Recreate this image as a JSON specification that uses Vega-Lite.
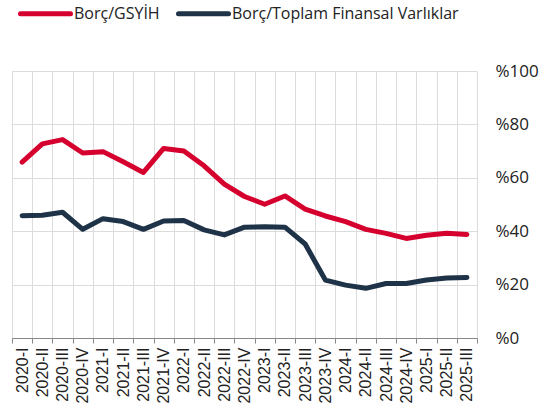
{
  "$schema": "https://vega.github.io/schema/vega-lite/v6.json",
  "width": 465,
  "height": 267,
  "autosize": {"type": "none"},
  "padding": {"left": 12, "top": 71, "right": 76, "bottom": 80},
  "config": {
    "view": {"stroke": null},
    "font": "Open Sans"
  },
  "data": {
    "values": [
      {"q": "2020-I", "s": "Borç/GSYİH", "v": 65.9},
      {"q": "2020-II", "s": "Borç/GSYİH", "v": 72.7},
      {"q": "2020-III", "s": "Borç/GSYİH", "v": 74.3},
      {"q": "2020-IV", "s": "Borç/GSYİH", "v": 69.3},
      {"q": "2021-I", "s": "Borç/GSYİH", "v": 69.8},
      {"q": "2021-II", "s": "Borç/GSYİH", "v": 66.0},
      {"q": "2021-III", "s": "Borç/GSYİH", "v": 62.0},
      {"q": "2021-IV", "s": "Borç/GSYİH", "v": 71.0},
      {"q": "2022-I", "s": "Borç/GSYİH", "v": 70.0},
      {"q": "2022-II", "s": "Borç/GSYİH", "v": 64.5},
      {"q": "2022-III", "s": "Borç/GSYİH", "v": 57.6},
      {"q": "2022-IV", "s": "Borç/GSYİH", "v": 53.0},
      {"q": "2023-I", "s": "Borç/GSYİH", "v": 50.1},
      {"q": "2023-II", "s": "Borç/GSYİH", "v": 53.2},
      {"q": "2023-III", "s": "Borç/GSYİH", "v": 48.3},
      {"q": "2023-IV", "s": "Borç/GSYİH", "v": 45.7},
      {"q": "2024-I", "s": "Borç/GSYİH", "v": 43.6},
      {"q": "2024-II", "s": "Borç/GSYİH", "v": 40.7},
      {"q": "2024-III", "s": "Borç/GSYİH", "v": 39.2},
      {"q": "2024-IV", "s": "Borç/GSYİH", "v": 37.3},
      {"q": "2025-I", "s": "Borç/GSYİH", "v": 38.5},
      {"q": "2025-II", "s": "Borç/GSYİH", "v": 39.2},
      {"q": "2025-III", "s": "Borç/GSYİH", "v": 38.8},
      {"q": "2020-I", "s": "Borç/Toplam Finansal Varlıklar", "v": 45.8},
      {"q": "2020-II", "s": "Borç/Toplam Finansal Varlıklar", "v": 46.0},
      {"q": "2020-III", "s": "Borç/Toplam Finansal Varlıklar", "v": 47.1},
      {"q": "2020-IV", "s": "Borç/Toplam Finansal Varlıklar", "v": 40.7},
      {"q": "2021-I", "s": "Borç/Toplam Finansal Varlıklar", "v": 44.7},
      {"q": "2021-II", "s": "Borç/Toplam Finansal Varlıklar", "v": 43.6},
      {"q": "2021-III", "s": "Borç/Toplam Finansal Varlıklar", "v": 40.7},
      {"q": "2021-IV", "s": "Borç/Toplam Finansal Varlıklar", "v": 43.8},
      {"q": "2022-I", "s": "Borç/Toplam Finansal Varlıklar", "v": 44.0},
      {"q": "2022-II", "s": "Borç/Toplam Finansal Varlıklar", "v": 40.5},
      {"q": "2022-III", "s": "Borç/Toplam Finansal Varlıklar", "v": 38.6},
      {"q": "2022-IV", "s": "Borç/Toplam Finansal Varlıklar", "v": 41.5},
      {"q": "2023-I", "s": "Borç/Toplam Finansal Varlıklar", "v": 41.7},
      {"q": "2023-II", "s": "Borç/Toplam Finansal Varlıklar", "v": 41.5},
      {"q": "2023-III", "s": "Borç/Toplam Finansal Varlıklar", "v": 35.2},
      {"q": "2023-IV", "s": "Borç/Toplam Finansal Varlıklar", "v": 21.7},
      {"q": "2024-I", "s": "Borç/Toplam Finansal Varlıklar", "v": 19.8},
      {"q": "2024-II", "s": "Borç/Toplam Finansal Varlıklar", "v": 18.6},
      {"q": "2024-III", "s": "Borç/Toplam Finansal Varlıklar", "v": 20.4},
      {"q": "2024-IV", "s": "Borç/Toplam Finansal Varlıklar", "v": 20.4},
      {"q": "2025-I", "s": "Borç/Toplam Finansal Varlıklar", "v": 21.7},
      {"q": "2025-II", "s": "Borç/Toplam Finansal Varlıklar", "v": 22.5},
      {"q": "2025-III", "s": "Borç/Toplam Finansal Varlıklar", "v": 22.7}
    ]
  },
  "mark": {"type": "line", "strokeWidth": 5, "strokeCap": "round", "strokeJoin": "round"},
  "encoding": {
    "x": {
      "field": "q",
      "type": "ordinal",
      "sort": null,
      "scale": {"type": "band", "paddingInner": 0, "paddingOuter": 0},
      "axis": {
        "title": null,
        "labelAngle": -90,
        "labelFont": "Liberation Sans",
        "labelFontSize": 16,
        "labelColor": "#222",
        "labelPadding": 4,
        "tickBand": "extent",
        "grid": true,
        "gridColor": "#dcdcdc",
        "gridWidth": 1,
        "domainColor": "#888",
        "tickColor": "#888",
        "tickSize": 5
      }
    },
    "y": {
      "field": "v",
      "type": "quantitative",
      "scale": {"domain": [0, 100], "nice": false},
      "axis": {
        "orient": "right",
        "title": null,
        "values": [0, 20, 40, 60, 80, 100],
        "labelExpr": "'%' + datum.value",
        "labelFont": "Open Sans",
        "labelFontSize": 17,
        "labelColor": "#222",
        "labelPadding": 18,
        "ticks": false,
        "domain": false,
        "grid": true,
        "gridColor": "#dcdcdc",
        "gridWidth": 1
      }
    },
    "color": {
      "field": "s",
      "type": "nominal",
      "scale": {
        "domain": ["Borç/GSYİH", "Borç/Toplam Finansal Varlıklar"],
        "range": ["#d6002f", "#1e3248"]
      },
      "legend": {
        "title": null,
        "orient": "none",
        "direction": "horizontal",
        "legendX": 6,
        "legendY": -85,
        "symbolType": "stroke",
        "symbolSize": 2500,
        "symbolStrokeWidth": 5,
        "labelFont": "Open Sans",
        "labelFontSize": 16,
        "labelColor": "#222",
        "labelOffset": 1,
        "labelLimit": 400,
        "columnPadding": 8,
        "encode": {"symbols": {"update": {"strokeCap": {"value": "round"}}}}
      }
    }
  }
}
